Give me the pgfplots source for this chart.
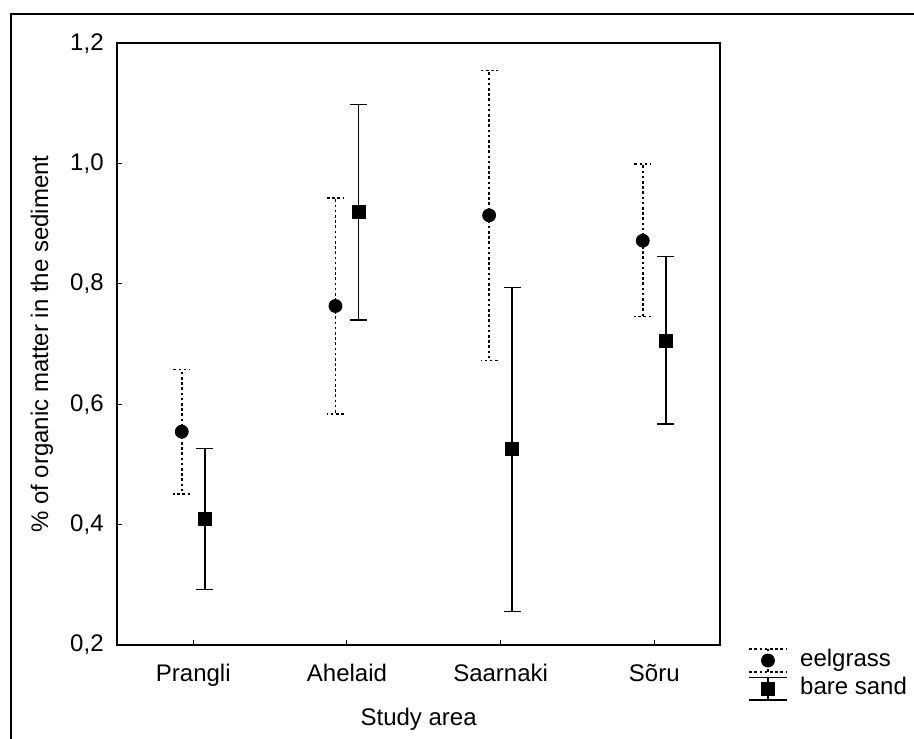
\documentclass[border=0pt]{standalone}
\usepackage{fontspec}
\setmainfont{Liberation Sans}
\usepackage{pgfplots}
\pgfplotsset{compat=1.18}
\usepackage{pgfplotstable}

\pgfplotstableread{
x y ep em
-0.075 0.5545 0.1035 0.1035
0.925 0.7634 0.1795 0.1795
1.925 0.9141 0.2404 0.2409
2.925 0.8719 0.1275 0.1263
}\eelgrass
\pgfplotstableread{
x y ep em
0.075 0.4094 0.1168 0.1175
1.075 0.9191 0.1795 0.1790
2.075 0.5252 0.2686 0.2699
3.075 0.7057 0.1396 0.1384
}\bare

\newcommand{\lfont}{\fontsize{12}{14}\selectfont}

\begin{document}
\begin{tikzpicture}
\useasboundingbox (-58.65pt,-46.5pt) rectangle (398.35pt,322.5pt);
\draw[line width=1pt] (-53.15pt,-47pt) -- (-53.15pt,315.5pt) -- (399pt,315.5pt);
\begin{axis}[
  at={(0pt,0pt)}, anchor=south west,
  scale only axis, width=301.35pt, height=300.85pt,
  xmin=-0.4946, xmax=3.4275, ymin=0.2, ymax=1.2,
  xtick={0,1,2,3}, xticklabels={Prangli,Ahelaid,Saarnaki,Sõru},
  ytick={0.2,0.4,0.6,0.8,1.0,1.2},
  /pgf/number format/assume math mode=true,
  yticklabel style={/pgf/number format/fixed, /pgf/number format/fixed zerofill,
    /pgf/number format/precision=1, /pgf/number format/use comma},
  tick pos=left, tick align=inside, major tick length=2.5pt,
  every tick/.style={black, line width=0.5pt},
  axis line style={line width=1pt},
  tick label style={font=\lfont},
  label style={font=\lfont},
  xticklabel style={anchor=base, yshift=-18.35pt},
  yticklabel style={anchor=east, inner sep=0pt, xshift=-6.65pt},
  xlabel={Study area},
  xlabel style={at={(axis description cs:0.5,-0.133)}, anchor=base},
  ylabel={\% of organic matter in the sediment},
  ylabel style={at={(axis description cs:-0.1249,0.5)}, anchor=center},
  legend style={draw=none, fill=none, at={(axis description cs:1,0)}, anchor=north west,
    xshift=14pt, yshift=-1.5pt, inner sep=0pt, row sep=2pt, column sep=6.3pt,
    cells={anchor=west},
    nodes={inner sep=0pt, text height=9pt, text depth=3pt, font=\lfont}},
]
\addplot[black, only marks, mark=*, mark size=3.25pt,
  legend image code/.code={
    \draw[line width=0.7pt, dash pattern=on 1.3pt off 1.3pt]
      (0pt,5.7pt) -- (18.85pt,5.7pt) (0pt,-5.7pt) -- (18.85pt,-5.7pt)
      (9.4pt,-5.7pt) -- (9.4pt,5.7pt);
    \fill (9.4pt,0pt) circle (3.25pt);},
  error bars/.cd, y dir=both, y explicit,
  error bar style={line width=0.75pt, dash pattern=on 1.3pt off 1.3pt},
  error mark options={rotate=90, line width=0.75pt, dash pattern=on 1.3pt off 1.3pt, mark size=4.2pt}]
  table[x=x, y=y, y error plus=ep, y error minus=em]{\eelgrass};
\addlegendentry{eelgrass}
\addplot[black, only marks, mark=square*, mark size=3.25pt,
  legend image code/.code={
    \draw[line width=0.75pt, solid]
      (0pt,5.6pt) -- (18.85pt,5.6pt) (0pt,-5.6pt) -- (18.85pt,-5.6pt)
      (9.4pt,-5.6pt) -- (9.4pt,5.6pt);
    \fill (6.15pt,-3.25pt) rectangle (12.65pt,3.25pt);},
  error bars/.cd, y dir=both, y explicit,
  error bar style={line width=0.75pt, solid},
  error mark options={rotate=90, line width=0.75pt, solid, mark size=4.2pt}]
  table[x=x, y=y, y error plus=ep, y error minus=em]{\bare};
\addlegendentry{bare sand}
\end{axis}
\end{tikzpicture}
\end{document}
